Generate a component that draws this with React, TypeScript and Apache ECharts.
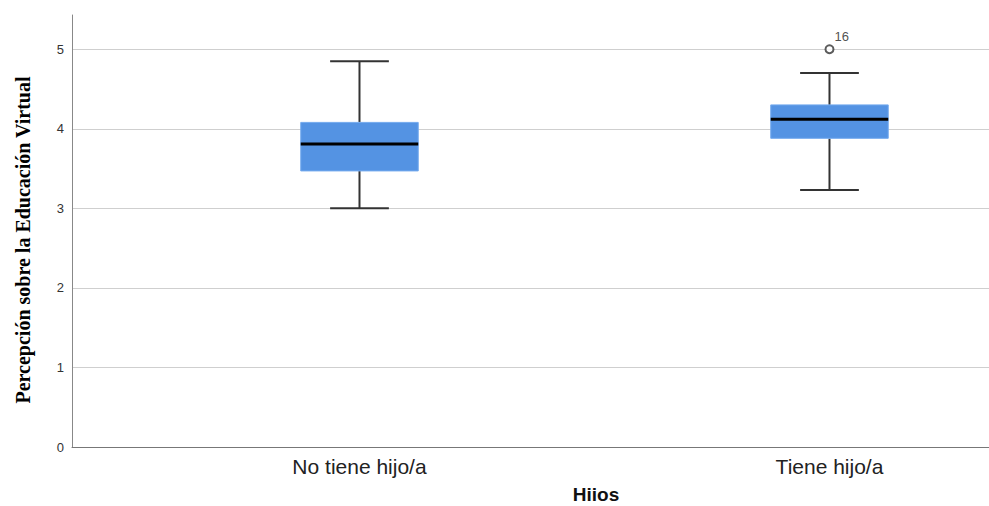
import React, { useEffect, useRef } from "react";
import * as echarts from "echarts";

const categories = ["No tiene hijo/a", "Tiene hijo/a"];
// [min, Q1, median, Q3, max]
const boxStats = [
  [3.0, 3.47, 3.81, 4.08, 4.85],
  [3.23, 3.88, 4.12, 4.3, 4.7],
];
const outliers = [[1, 5.0, "16"]];
const yTicks = [0, 1, 2, 3, 4, 5];
const yTitle = "Percepción sobre la Educación Virtual";
const xTitle = "Hiios";

export default function App() {
  const ref = useRef<HTMLDivElement>(null);
  useEffect(() => {
    const chart = echarts.init(ref.current!, null, { renderer: "svg" });
    const yMin = yTicks[0];
    const yMax = 5.43;
    const boxData = boxStats.map((s, i) => [i, ...s]);
    chart.setOption({
      animation: false,
      backgroundColor: "#fff",
      grid: { left: 72, right: 0, top: 15, bottom: 59 },
      xAxis: {
        type: "value",
        min: -0.6117,
        max: 1.3394,
        axisLine: { show: true, onZero: false, lineStyle: { color: "#777", width: 1 } },
        axisTick: { show: false },
        splitLine: { show: false },
        axisLabel: {
          customValues: categories.map((_, i) => i),
          formatter: (v: number) => categories[Math.round(v)] ?? "",
          color: "#222",
          fontSize: 21,
          fontFamily: "Liberation Sans, Arial, sans-serif",
          margin: 9,
        },
      },
      yAxis: {
        type: "value",
        min: yMin,
        max: yMax,
        interval: 1,
        axisLine: { show: true, onZero: false, lineStyle: { color: "#888", width: 1 } },
        axisTick: { show: false },
        axisLabel: {
          color: "#333",
          fontSize: 13,
          fontFamily: "Liberation Sans, Arial, sans-serif",
          margin: 8,
          showMaxLabel: false,
          formatter: (v: number) => (Number.isInteger(v) ? String(v) : ""),
        },
        splitLine: {
          show: true,
          showMaxLine: false,
          showMinLine: false,
          lineStyle: { color: "#cfcfcf", width: 1 },
        },
      },
      graphic: [
        {
          type: "text",
          x: 23,
          y: 240,
          rotation: Math.PI / 2,
          style: {
            text: yTitle,
            align: "center",
            verticalAlign: "middle",
            fill: "#000",
            font: "bold 20px 'Liberation Serif', 'Times New Roman', serif",
          },
        },
        {
          type: "text",
          x: 596,
          y: 494,
          style: {
            text: xTitle,
            align: "center",
            verticalAlign: "middle",
            fill: "#111",
            font: "bold 19px 'Liberation Sans', Arial, sans-serif",
          },
        },
      ],
      series: [
        {
          type: "custom",
          data: boxData,
          encode: { x: 0, y: [1, 2, 3, 4, 5] },
          renderItem: (params: any, api: any) => {
            const c = api.value(0);
            const vMin = api.value(1);
            const q1 = api.value(2);
            const med = api.value(3);
            const q3 = api.value(4);
            const vMax = api.value(5);
            const band = api.size([1, 0])[0];
            const bw = band * 0.25;
            const cw = bw / 2;
            const pMin = api.coord([c, vMin]);
            const pQ1 = api.coord([c, q1]);
            const pMed = api.coord([c, med]);
            const pQ3 = api.coord([c, q3]);
            const pMax = api.coord([c, vMax]);
            const x = pMed[0];
            const wStyle = { stroke: "#333", lineWidth: 2 };
            return {
              type: "group",
              children: [
                { type: "line", shape: { x1: x, y1: pMax[1], x2: x, y2: pQ3[1] }, style: wStyle },
                { type: "line", shape: { x1: x, y1: pQ1[1], x2: x, y2: pMin[1] }, style: wStyle },
                { type: "line", shape: { x1: x - cw / 2, y1: pMax[1], x2: x + cw / 2, y2: pMax[1] }, style: wStyle },
                { type: "line", shape: { x1: x - cw / 2, y1: pMin[1], x2: x + cw / 2, y2: pMin[1] }, style: wStyle },
                {
                  type: "rect",
                  shape: { x: x - bw / 2, y: pQ3[1], width: bw, height: pQ1[1] - pQ3[1] },
                  style: { fill: "#5493e3", stroke: "#74aaee", lineWidth: 1 },
                },
                {
                  type: "line",
                  shape: { x1: x - bw / 2, y1: pMed[1], x2: x + bw / 2, y2: pMed[1] },
                  style: { stroke: "#000", lineWidth: 3 },
                },
              ],
            };
          },
        },
        {
          type: "scatter",
          data: outliers.map((o) => ({ value: [o[0], o[1]], name: o[2] })),
          symbol: "emptyCircle",
          symbolSize: 8,
          itemStyle: { color: "#333", borderColor: "#333", borderWidth: 1.5 },
          label: {
            show: true,
            formatter: (p: any) => p.name,
            position: [10, -14],
            color: "#222",
            fontSize: 13,
            fontFamily: "Liberation Sans, Arial, sans-serif",
          },
        },
      ],
    });
    return () => chart.dispose();
  }, []);
  return (
    <div
      ref={ref}
      style={{ position: "fixed", left: 0, top: 0, width: 989, height: 506 }}
    />
  );
}
